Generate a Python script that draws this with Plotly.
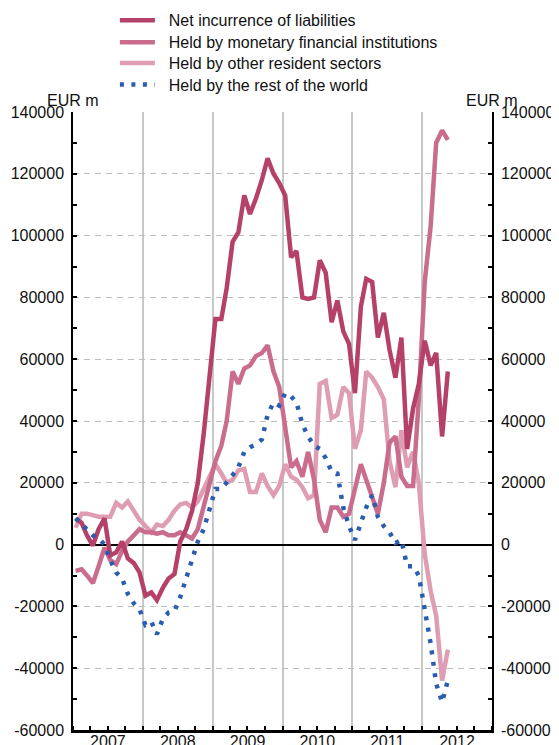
import pandas as pd
import plotly.graph_objects as go

# Monthly observations, Jan 2007 - May 2012 (EUR m)
months = pd.date_range("2007-01-01", periods=65, freq="MS") + pd.Timedelta(days=14)

net_incurrence = [8.5, 7, 3, -0.3, 5, 8.5, -3.5, -2.5, 1, -4.5,
                  -6, -9, -16.5, -15.5, -18, -14, -11, -9.5, 1, 5,
                  11, 20, 36, 53, 73, 73, 83, 98, 101, 113,
                  107, 112, 118, 125, 120, 117, 113, 93, 95, 80,
                  79.5, 80, 92, 88, 72, 79, 69, 65, 49, 77,
                  86, 85, 67, 75, 63, 54, 67, 31, 44, 52,
                  66, 58, 62, 35, 56]
held_mfi = [-8.5, -8, -10, -12.5, -7, -1, -5, -6.3, -2, 1,
            3, 5, 4, 4, 3.5, 4, 3, 3, 4, 3,
            2, 5, 12, 20, 27, 32, 40, 56, 52, 57,
            58, 61, 62, 64.5, 56, 51, 38, 25, 27, 22,
            30, 21, 8, 4, 12, 12, 9, 10, 18, 26,
            21, 15, 10, 20, 33, 35, 22, 19, 19, 47,
            85, 103, 130, 134, 131]
held_ors = [5.5, 10, 10, 9.5, 9, 9, 9, 13.5, 12, 14,
            11, 8, 6, 4, 6.5, 6, 8, 11, 13, 13.5,
            12, 14, 18, 22, 26, 23, 20, 21, 24, 24.5,
            17, 17, 23, 19, 16, 19, 26, 22, 21, 18.6,
            15, 16, 52, 53, 41, 42, 51, 49, 31, 37,
            56, 54, 51, 47, 27, 18.6, 37, 25, 30, 20,
            -3, -15, -23, -44, -34]
held_row = [8.5, 6.5, 4.5, 3, 2, 0, -5, -9, -11, -16,
            -19, -21, -26, -25, -29, -24, -22, -21.5, -17, -11,
            -5, 1, 5, 11, 18, 18, 20, 22.5, 25, 30,
            31.5, 32.5, 34, 42, 46, 45, 49, 48, 46, 39,
            35, 32, 31, 28, 23.6, 23, 12, 6, 1.5, 7,
            12, 16, 9, 6, 4, 0.5, 1.5, -7, -7, -10,
            -21, -32, -45, -51, -44]

series_names = ["Net incurrence of liabilities",
                "Held by monetary financial institutions",
                "Held by other resident sectors",
                "Held by the rest of the world"]
series_values = [net_incurrence, held_mfi, held_ors, held_row]
series_colors = ["#b5416a", "#c96c8e", "#de9db2", "#2a5db0"]
series_dash = ["solid", "solid", "solid", "4px,7.5px"]

y_tickvals = list(range(-60000, 140001, 20000))
y_ticktext = [str(v) for v in y_tickvals]
unit_label = "EUR m"

FONT = "Liberation Sans, Arial, Helvetica, sans-serif"
NBSP = "\u00a0"

fig = go.Figure()
draw_order = [2, 1, 0, 3]
legend_ids = ["legend", "legend2", "legend3", "legend4"]
for k in draw_order:
    fig.add_trace(go.Scatter(
        x=months, y=[v * 1000 for v in series_values[k]],
        name=NBSP * 2 + series_names[k], mode="lines",
        line=dict(color=series_colors[k], width=4.5, dash=series_dash[k]),
        legend=legend_ids[k], hoverinfo="skip"))

# invisible companion so the right-hand axis is rendered
fig.add_trace(go.Scatter(x=months, y=[v * 1000 for v in net_incurrence],
                         yaxis="y2", mode="lines", line=dict(width=0),
                         opacity=0, showlegend=False, hoverinfo="skip"))

yax = dict(range=[-60000, 140000], tickvals=y_tickvals, ticktext=y_ticktext,
           ticks="inside", ticklen=4, tickwidth=1.5, tickcolor="black",
           showline=True, linecolor="black", linewidth=1.5,
           tickfont=dict(family=FONT, size=16, color="#111"),
           ticklabelstandoff=4,
           minor=dict(dtick=10000, tick0=0, ticks="inside", ticklen=4,
                      tickwidth=1.5, tickcolor="black", showgrid=False),
           fixedrange=True)

# the page body adds an 8px offset, so the figure is sized to fill the window
fig.update_layout(
    width=551, height=737, autosize=False,
    margin=dict(l=65, r=67, t=104, b=15, autoexpand=False),
    paper_bgcolor="white", plot_bgcolor="white",
    font=dict(family=FONT, size=16, color="#111"),
    xaxis=dict(type="date", range=["2007-01-01", "2013-01-01"],
               dtick="M12", tick0="2007-01-01", tickformat="%Y",
               ticklabelmode="period", ticks="inside", ticklen=4,
               tickwidth=1.5, tickcolor="black", ticklabelstandoff=-5,
               showgrid=True, gridcolor="#c8c8c8", gridwidth=1.5,
               showline=True, linecolor="black", linewidth=2.5,
               tickfont=dict(family=FONT, size=16, color="#111"),
               minor=dict(dtick="M3", ticks="inside", ticklen=4,
                          tickwidth=1.5, tickcolor="black", showgrid=False)),
    yaxis=dict(**yax, side="left", showgrid=True, gridcolor="#bdbdbd",
               gridwidth=1, griddash="6px,5px", zeroline=True,
               zerolinecolor="black", zerolinewidth=1.5),
    yaxis2=dict(**yax, side="right", overlaying="y", anchor="x",
                showgrid=False, zeroline=False),
    annotations=[
        dict(text=unit_label, xref="paper", yref="paper", x=0, y=1.0194,
             xanchor="center", yanchor="middle", showarrow=False,
             font=dict(family=FONT, size=16, color="#111")),
        dict(text=unit_label, xref="paper", yref="paper", x=1, y=1.0194,
             xanchor="center", yanchor="middle", showarrow=False,
             font=dict(family=FONT, size=16, color="#111")),
    ],
)

legend_y = [1.1484, 1.1128, 1.0793, 1.0442]
for lid, ly in zip(legend_ids, legend_y):
    fig.update_layout({lid: dict(x=0.1, y=ly, xanchor="left", yanchor="middle",
                                 bgcolor="rgba(0,0,0,0)", borderwidth=0,
                                 itemwidth=35,
                                 font=dict(family=FONT, size=16, color="#111"))})

fig.write_html("out.html")
